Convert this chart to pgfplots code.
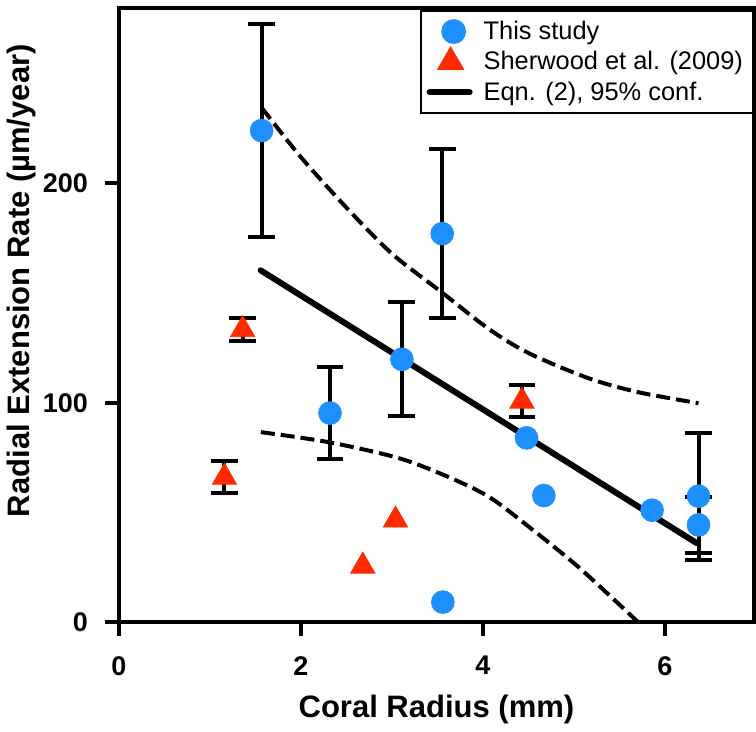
\documentclass[border=0pt]{standalone}
\usepackage{fontspec}
\setmainfont{Liberation Sans}
\usepackage{pgfplots}
\pgfplotsset{compat=1.18}
\definecolor{cblue}{HTML}{1E8FFF}
\definecolor{cred}{HTML}{FF2A00}
\pgfplotsset{
  ebar/.style={error bars/.cd, y dir=both, y explicit,
    error bar style={line width=2pt, black},
    error mark options={rotate=90, mark size=6.7pt, line width=2pt, black}, /pgfplots/.cd},
}
\begin{document}
\begin{tikzpicture}
\begin{axis}[
  scale only axis, width=317.5pt, height=307pt,
  xmin=0, xmax=6.98, ymin=0, ymax=280,
  xtick={0,2,4,6}, ytick={0,100,200},
  xtick pos=bottom, ytick pos=left,
  axis line style={line width=2pt},
  tick style={line width=2pt, black},
  tick align=outside, major tick length=7pt,
  /pgf/number format/assume math mode=true,
  ticklabel style={font=\bfseries\fontsize{13.5}{16}\selectfont},
  xticklabel style={yshift=-6.5pt},
  yticklabel style={xshift=-5pt},
  xlabel={Coral Radius (mm)},
  ylabel={Radial Extension Rate (µm/year)},
  label style={font=\bfseries\fontsize{15.5}{18}\selectfont},
  xlabel style={at={(axis description cs:0.5,-0.143)}, anchor=center},
  ylabel style={at={(axis description cs:-0.154,0.556)}, anchor=center},
  legend style={at={(1,0.997)}, anchor=north east, draw=black, line width=1pt,
    font=\fontsize{12.7}{15}\selectfont, inner xsep=3pt, inner ysep=3pt,
    row sep=0.5pt, cells={anchor=west}},
  legend cell align=left,
]
% This study (with error bars)
\addplot[only marks, color=cblue, mark=*, mark size=5.7pt, mark options={draw=none, fill=cblue},
  legend image code/.code={\draw plot coordinates {(13pt,0pt)}; \path (0pt,0pt) (24.5pt,0pt);}, ebar]
  coordinates {
  (1.568,224.1) +- (0,48.6)
  (2.32,95.3) +- (0,21)
  (3.11,119.8) +- (0,26)
  (3.553,177.1) +- (0,38.5)
  (6.37,57.4) +- (0,29)
  (6.37,44.3) +- (0,12.7)
  };
\addlegendentry{This study}
% Sherwood et al. (with error bars)
\addplot[only marks, color=cred, mark=triangle*, mark size=7pt, mark options={draw=none, fill=cred},
  legend image code/.code={\draw plot coordinates {(11.5pt,0pt)}; \path (0pt,0pt) (24.5pt,0pt);}, ebar]
  coordinates {
  (1.16,66) +- (0,7.3)
  (1.36,133.3) +- (0,5.3)
  (4.43,100.7) +- (0,7.4)
  };
\addlegendentry{Sherwood et al. (2009)}
% Fit
\addplot[black, line width=3pt, line cap=round,
  legend image code/.code={\draw[line width=3pt, line cap=round] (1pt,0pt) -- (21pt,0pt); \path (24.5pt,0pt);}]
  coordinates {(1.557,160.4) (6.35,36)};
\addlegendentry{Eqn. (2), 95\% conf.}
% confidence band
\addplot[black, line width=2pt, dash pattern=on 7pt off 3pt, smooth, forget plot]
  coordinates {(1.57,234.5) (2.0,212) (2.5,189) (3.0,168) (3.55,150.3) (4.07,133.5)
  (4.51,122.5) (5.16,111.2) (5.71,104.8) (6.37,99.8)};
\addplot[black, line width=2pt, dash pattern=on 7pt off 3pt, smooth, forget plot]
  coordinates {(1.56,86.6) (2.31,82) (3.08,74.7) (3.63,66) (4.07,57) (4.51,43.3)
  (5.05,25.1) (5.68,1) (5.75,-2)};
% points without error bars
\addplot[only marks, color=cblue, mark=*, mark size=5.7pt, mark options={draw=none, fill=cblue}, forget plot]
  coordinates {(4.48,84) (4.67,57.7) (5.86,51) (3.56,9.1)};
\addplot[only marks, color=cred, mark=triangle*, mark size=7pt, mark options={draw=none, fill=cred}, forget plot]
  coordinates {(2.68,25.5) (3.04,46.5)};
\end{axis}
\path ([yshift=4pt]current axis.north);
\end{tikzpicture}
\end{document}
